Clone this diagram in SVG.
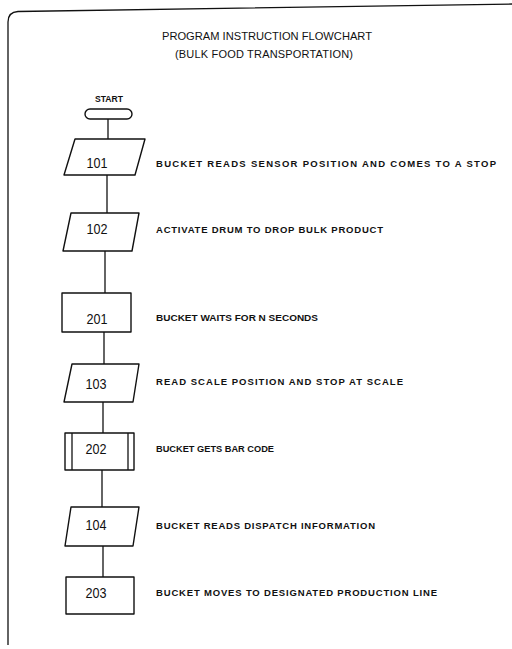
<svg xmlns="http://www.w3.org/2000/svg" width="512" height="649" viewBox="0 0 512 649">
<style>
.sh{fill:#fff;stroke:#111;stroke-width:1.4;stroke-linejoin:round}
.ln{stroke:#111;stroke-width:1.3;fill:none}
.num{font-family:"Liberation Sans",Arial,sans-serif;font-size:14px;fill:#111;text-anchor:middle}
.lb{font-family:"Liberation Sans",Arial,sans-serif;font-size:9.5px;font-weight:bold;fill:#111}
.ti{font-family:"Liberation Sans",Arial,sans-serif;font-size:11px;fill:#111}
</style>
<rect width="512" height="649" fill="#fff"/>
<path class="ln" d="M8,645 L8,22 Q8,12 18,11.5 L512,4"/>
<text class="ti" x="162" y="40" textLength="210" lengthAdjust="spacingAndGlyphs">PROGRAM  INSTRUCTION  FLOWCHART</text>
<text class="ti" x="175" y="58" font-size="10" textLength="178" lengthAdjust="spacing">(BULK FOOD TRANSPORTATION)</text>
<g id="connectors">
<line class="ln" x1="108" y1="119" x2="108" y2="139"/>
<line class="ln" x1="107" y1="175" x2="107" y2="213"/>
<line class="ln" x1="105" y1="251" x2="105" y2="293"/>
<line class="ln" x1="104" y1="332" x2="104" y2="364"/>
<line class="ln" x1="103" y1="402" x2="103" y2="433"/>
<line class="ln" x1="102" y1="470" x2="102" y2="507"/>
<line class="ln" x1="103" y1="546" x2="103" y2="577"/>
</g>
<g id="start">
<text class="lb" x="95" y="102" font-size="9" textLength="28" lengthAdjust="spacingAndGlyphs">START</text>
<rect class="sh" x="85" y="109" width="47" height="10" rx="5"/>
</g>
<g id="n101">
<polygon class="sh" points="75,139 145,139 135,175 64,175"/>
<text class="num" x="97" y="168" textLength="21" lengthAdjust="spacingAndGlyphs">101</text>
<text class="lb" x="156" y="167" textLength="340" lengthAdjust="spacing">BUCKET READS SENSOR POSITION AND COMES TO A STOP</text>
</g>
<g id="n102">
<polygon class="sh" points="71,213 139,213 132,251 63,251"/>
<text class="num" x="97" y="234" textLength="21" lengthAdjust="spacingAndGlyphs">102</text>
<text class="lb" x="156" y="233" textLength="227" lengthAdjust="spacing">ACTIVATE DRUM TO DROP BULK PRODUCT</text>
</g>
<g id="n201">
<rect class="sh" x="62" y="293" width="69" height="39"/>
<text class="num" x="97" y="324" textLength="21" lengthAdjust="spacingAndGlyphs">201</text>
<text class="lb" x="156" y="321" textLength="162" lengthAdjust="spacingAndGlyphs">BUCKET WAITS FOR N SECONDS</text>
</g>
<g id="n103">
<polygon class="sh" points="72,364 139,364 133,402 64,402"/>
<text class="num" x="96" y="389" textLength="21" lengthAdjust="spacingAndGlyphs">103</text>
<text class="lb" x="156" y="385" textLength="247" lengthAdjust="spacing">READ SCALE POSITION AND STOP AT SCALE</text>
</g>
<g id="n202">
<rect class="sh" x="65" y="433" width="69" height="37"/>
<line class="ln" x1="72" y1="433" x2="72" y2="470"/>
<line class="ln" x1="128" y1="433" x2="128" y2="470"/>
<text class="num" x="96" y="454" textLength="21" lengthAdjust="spacingAndGlyphs">202</text>
<text class="lb" x="156" y="452" textLength="118" lengthAdjust="spacingAndGlyphs">BUCKET GETS BAR CODE</text>
</g>
<g id="n104">
<polygon class="sh" points="71,507 139,507 133,546 65,546"/>
<text class="num" x="96" y="530" textLength="21" lengthAdjust="spacingAndGlyphs">104</text>
<text class="lb" x="156" y="529" textLength="219" lengthAdjust="spacing">BUCKET READS DISPATCH INFORMATION</text>
</g>
<g id="n203">
<rect class="sh" x="66" y="577" width="68" height="37"/>
<text class="num" x="96" y="598" textLength="21" lengthAdjust="spacingAndGlyphs">203</text>
<text class="lb" x="156" y="596" textLength="281" lengthAdjust="spacing">BUCKET MOVES TO DESIGNATED PRODUCTION LINE</text>
</g>
</svg>
